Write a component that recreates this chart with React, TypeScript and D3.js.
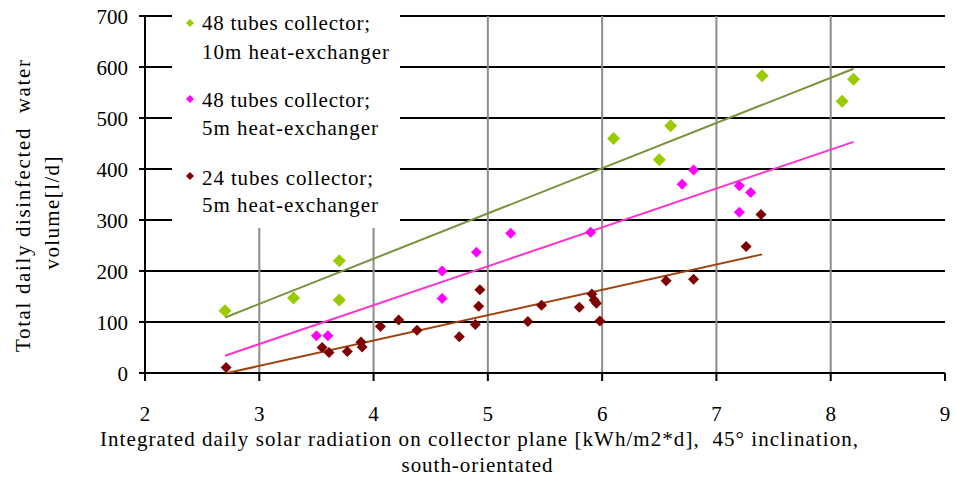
import React from "react";
import * as d3 from "d3";

const xTicks = [2, 3, 4, 5, 6, 7, 8, 9];
const yTicks = [0, 100, 200, 300, 400, 500, 600, 700];

const green48x = [2.7, 3.3, 3.7, 3.7, 6.1, 6.6, 6.5, 7.4, 8.1, 8.2];
const green48y = [122, 147, 220, 143, 460, 485, 418, 583, 533, 576];

const magenta48x = [3.5, 3.6, 4.6, 4.6, 4.9, 5.2, 5.9, 6.7, 6.8, 7.2, 7.3, 7.2];
const magenta48y = [73, 73, 200, 146, 237, 274, 276, 370, 398, 367, 354, 315];

const brown24x = [2.71, 3.55, 3.61, 3.77, 3.89, 3.9, 4.06, 4.22, 4.38, 4.75, 4.89, 4.92, 4.93, 5.35, 5.47, 5.8, 5.91, 5.93, 5.95, 5.98, 6.56, 6.8, 7.26, 7.39];
const brown24y = [11, 50, 40, 42, 61, 51, 91, 104, 84, 71, 95, 131, 163, 101, 133, 129, 155, 143, 137, 102, 181, 184, 248, 311];

const seriesNames = [
  ["48 tubes collector;", "10m heat-exchanger"],
  ["48 tubes collector;", "5m heat-exchanger"],
  ["24 tubes collector;", "5m heat-exchanger"],
];

function fit(xs: number[], ys: number[]) {
  const mx = d3.mean(xs)!;
  const my = d3.mean(ys)!;
  let sxy = 0, sxx = 0;
  xs.forEach((x, i) => {
    sxy += (x - mx) * (ys[i] - my);
    sxx += (x - mx) * (x - mx);
  });
  const b = sxy / sxx;
  return { b, a: my - b * mx };
}

const FONT = '"Liberation Serif", "Times New Roman", Times, "DejaVu Serif", serif';

export default function App() {
  const x = d3.scaleLinear().domain([2, 9]).range([145, 945]);
  const y = d3.scaleLinear().domain([0, 700]).range([373, 16]);

  const series = [
    { xs: green48x, ys: green48y, fill: "#99cc00", line: "#77933c", size: 13, range: [2.7, 8.2] },
    { xs: magenta48x, ys: magenta48y, fill: "#ff00ff", line: "#ff33cc", size: 11, range: [2.7, 8.2] },
    { xs: brown24x, ys: brown24y, fill: "#800000", line: "#a0410d", size: 11, range: [2.7, 7.4] },
  ];

  const diamond = (cx: number, cy: number, s: number) => {
    const h = s / 2;
    return `M${cx},${cy - h}L${cx + h},${cy}L${cx},${cy + h}L${cx - h},${cy}Z`;
  };

  const legendMarkY = [23, 99, 176];
  const legendBase = [[30, 59], [107, 135], [185, 212]];
  const legendLen = [[168, 187], [168, 176], [171, 176]];
  const ts = { fontFamily: FONT, fontSize: 21, whiteSpace: "pre" as const, fill: "#000" };

  return (
    <svg width={956} height={482} fontFamily={FONT} style={{ position: "absolute", left: 0, top: 0, background: "#fff" }}>
      <defs>
        <clipPath id="plot">
          <rect x={145} y={16} width={800} height={357} />
        </clipPath>
      </defs>
      {yTicks.filter((t) => t > 0).map((t) => (
        <line key={"h" + t} x1={x(2)} x2={x(9)} y1={y(t)} y2={y(t)} stroke="#000" strokeWidth={2} />
      ))}
      {xTicks.filter((t) => t > 2 && t < 9).map((t) => (
        <line key={"v" + t} x1={x(t)} x2={x(t)} y1={y(700)} y2={y(0)} stroke="#8c8c8c" strokeWidth={2} />
      ))}
      <rect x={172} y={0} width={228} height={228} fill="#fff" />
      <line x1={x(2)} x2={x(2)} y1={y(700) - 1} y2={y(0)} stroke="#000" strokeWidth={2} />
      <line x1={x(2)} x2={x(9)} y1={y(0)} y2={y(0)} stroke="#000" strokeWidth={2} />
      {yTicks.map((t) => (
        <g key={"yt" + t}>
          <line x1={x(2) - 6} x2={x(2) + 6} y1={y(t)} y2={y(t)} stroke="#000" strokeWidth={2} />
          <text x={128} y={y(t) + 8} textAnchor="end" style={ts}>{t}</text>
        </g>
      ))}
      {xTicks.map((t) => (
        <g key={"xt" + t}>
          <line x1={x(t)} x2={x(t)} y1={y(0)} y2={y(0) + 8} stroke="#000" strokeWidth={2} />
          <text x={x(t)} y={421} textAnchor="middle" style={ts}>{t}</text>
        </g>
      ))}
      <g clipPath="url(#plot)">
        {series.map((s, i) => {
          const { a, b } = fit(s.xs, s.ys);
          const [x0, x1] = s.range;
          return (
            <line key={"tl" + i} x1={x(x0)} y1={y(a + b * x0)} x2={x(x1)} y2={y(a + b * x1)} stroke={s.line} strokeWidth={2} />
          );
        })}
      </g>
      {series.map((s, i) => (
        <g key={"pts" + i}>
          {s.xs.map((v, j) => (
            <path key={j} d={diamond(x(v), y(s.ys[j]), s.size)} fill={s.fill} />
          ))}
        </g>
      ))}
      {seriesNames.map((lines, i) => (
        <g key={"lg" + i}>
          <path d={diamond(190, legendMarkY[i], 8)} fill={series[i].fill} />
          <text x={202} y={legendBase[i][0]} textLength={legendLen[i][0]} lengthAdjust="spacing" style={ts}>{lines[0]}</text>
          <text x={202} y={legendBase[i][1]} textLength={legendLen[i][1]} lengthAdjust="spacing" style={ts}>{lines[1]}</text>
        </g>
      ))}
      <text transform="translate(30,206) rotate(-90)" textAnchor="middle" textLength={292} lengthAdjust="spacing" style={ts}>
        {"Total daily disinfected  water"}
      </text>
      <text transform="translate(59,213) rotate(-90)" textAnchor="middle" textLength={113} lengthAdjust="spacing" style={ts}>
        {"volume[l/d]"}
      </text>
      <text x={479} y={446} textAnchor="middle" textLength={758} lengthAdjust="spacing" style={ts}>
        {"Integrated daily solar radiation on collector plane [kWh/m2*d],  45\u00b0 inclination,"}
      </text>
      <text x={477} y={472} textAnchor="middle" textLength={151} lengthAdjust="spacing" style={ts}>
        {"south-orientated"}
      </text>
    </svg>
  );
}
